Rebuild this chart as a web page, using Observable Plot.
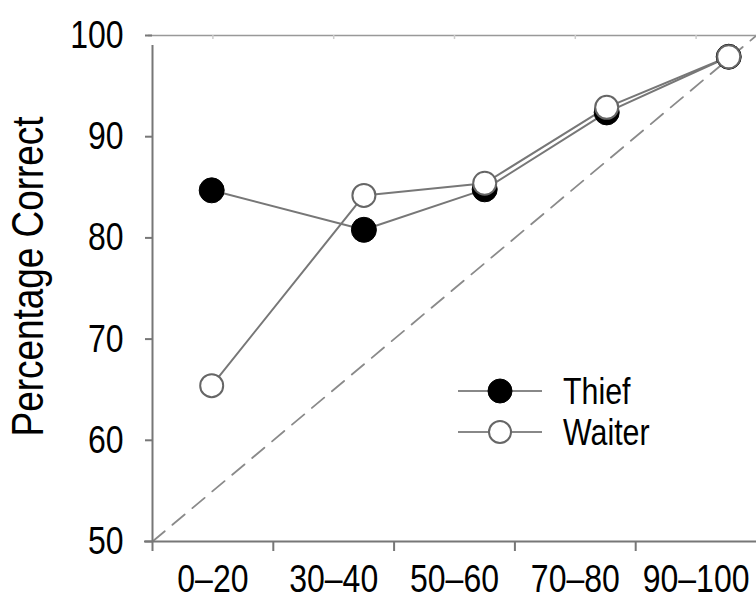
<!DOCTYPE html>
<html><head><meta charset="utf-8">
<script src="https://cdn.jsdelivr.net/npm/d3@7"></script>
<script src="https://cdn.jsdelivr.net/npm/@observablehq/plot@0.6"></script>
<style>
body{margin:0;background:#fff;}
#chart{width:756px;height:601px;}
</style></head><body><div id="chart"></div>
<script>
const categories = ["0–20", "30–40", "50–60", "70–80", "90–100"];
const binCenters = [55, 65, 75, 85, 95];
const binEdges = [50, 60, 70, 80, 90];
const meanConfidence = [54.9, 67.5, 77.5, 87.6, 97.7];
const thief = [84.7, 80.8, 84.8, 92.4, 97.9];
const waiter = [65.4, 84.2, 85.4, 92.9, 97.9];
const yTicks = [50, 60, 70, 80, 90, 100];
const seriesNames = ["Thief", "Waiter"];

const FONT = '"Liberation Sans", Arial, Helvetica, sans-serif';
const NARROW = 0.82;
const gray = "#777";

const thiefRows = categories.map((c, i) => ({series: "Thief", cat: c, x: meanConfidence[i], y: thief[i]}));
const waiterRows = categories.map((c, i) => ({series: "Waiter", cat: c, x: meanConfidence[i], y: waiter[i]}));
const ext = d3.extent(yTicks);

const plot = Plot.plot({
  width: 756, height: 601,
  marginLeft: 152, marginRight: 0, marginTop: 35, marginBottom: 60,
  x: {domain: ext},
  y: {domain: ext},
  style: {fontFamily: FONT, background: "#fff", color: "black"},
  marks: [
    // identity (perfect calibration) line
    Plot.line(ext, {x: d => d, y: d => d, stroke: "#8a8a8a", strokeWidth: 1.8, strokeDasharray: "16,10"}),
    // top frame with faint ticks
    Plot.ruleY([ext[1]], {stroke: "#999", strokeWidth: 1.5, insetLeft: -4}),
    Plot.ruleX(binCenters, {y1: ext[1], y2: ext[1] - 0.4, stroke: "#ccc", strokeWidth: 1.5}),
    // axis lines
    Plot.ruleX([ext[0]], {y1: ext[0], y2: ext[1], insetBottom: -10, stroke: gray, strokeWidth: 2}),
    Plot.ruleY([ext[0]], {x1: ext[0], x2: ext[1], insetLeft: -8, stroke: gray, strokeWidth: 2}),
    Plot.axisY({ticks: yTicks, tickSize: 7, tickPadding: 22, fontSize: 39, stroke: gray, strokeWidth: 2, fill: "black", label: null}),
    Plot.axisX({ticks: binEdges, tickFormat: () => "", tickSize: 10, stroke: gray, strokeWidth: 2, label: null}),
    Plot.axisX({ticks: binCenters, tickFormat: (d, i) => categories[i], tickSize: 0, tickPadding: 23, fontSize: 39, fill: "black", label: null}),
    // title
    Plot.text(["Percentage Correct"], {frameAnchor: "left", textAnchor: "middle", lineAnchor: "middle", dx: -124, dy: -12, rotate: -90, fontSize: 45, fill: "black"}),
    // series
    Plot.line(thiefRows, {x: "x", y: "y", stroke: gray, strokeWidth: 2}),
    Plot.line(waiterRows, {x: "x", y: "y", stroke: gray, strokeWidth: 2}),
    Plot.dot(thiefRows, {x: "x", y: "y", r: 12.5, fill: "black", stroke: "black", strokeWidth: 1}),
    Plot.dot(waiterRows, {x: "x", y: "y", r: 11.5, fill: "white", stroke: "#666", strokeWidth: 2})
  ]
});

// legend inside plot area
const svg = d3.select(plot);
const lg = svg.append("g").attr("transform", "translate(458,391)");
seriesNames.forEach((name, i) => {
  const g = lg.append("g").attr("transform", `translate(0,${i * 41})`);
  g.append("line").attr("x1", 0).attr("x2", 84).attr("stroke", "#888").attr("stroke-width", 2);
  g.append("circle").attr("cx", 42).attr("r", i === 0 ? 12 : 11)
    .attr("fill", i === 0 ? "black" : "white")
    .attr("stroke", i === 0 ? "black" : "#666").attr("stroke-width", i === 0 ? 1 : 2);
  g.append("text").attr("x", 105).attr("dy", "0.36em")
    .attr("font-size", 37).attr("text-anchor", "start")
    .attr("font-family", FONT).attr("fill", "black").text(name);
});

document.getElementById("chart").appendChild(plot);

// condense texts horizontally (Helvetica Condensed look)
svg.selectAll("text").each(function () {
  const L = this.getComputedTextLength();
  if (L > 0) {
    this.setAttribute("textLength", (L * NARROW).toFixed(2));
    this.setAttribute("lengthAdjust", "spacingAndGlyphs");
  }
});
</script></body></html>
